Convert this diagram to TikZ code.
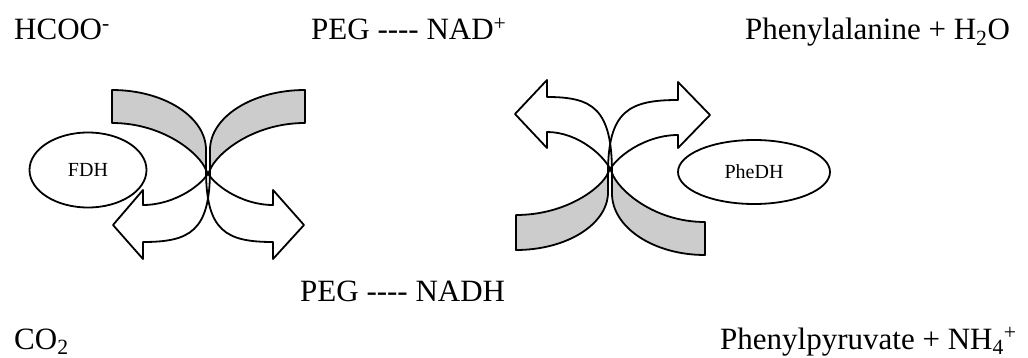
\documentclass[tikz,border=0pt]{standalone}
\usepackage{fontspec}
\setmainfont{Liberation Serif}
\usetikzlibrary{shapes.geometric}
\definecolor{bandgray}{RGB}{204,204,204}
\tikzset{
  lbl/.style={anchor=base west, inner sep=0pt, font=\fontsize{31}{36}\selectfont},
  enz/.style={ellipse, draw, line width=1.8pt, inner sep=0pt, fill=white, font=\fontsize{20}{24}\selectfont},
  bandfill/.style={fill=bandgray},
  arrowfill/.style={fill=white},
  outline/.style={draw, line width=1.8pt, line join=round},
}
% gray band: style, end x, outer y, inner y
\newcommand\bandpath[4]{%
  \path[#1] (#2,#3) .. controls ({0.4477*(#2)},#3) and (0,{0.664*(#3)}) .. (0,{0.25*(#3)}) -- (0,0)
    .. controls ({0.064*(#2)},{0.34*(#4)}) and ({0.4477*(#2)},#4) .. (#2,#4) -- cycle;}
% white arrow: style, head base x, notch1 y, notch2 y, head1 y, head2 y, tip x, tip y
\newcommand\arrowpath[8]{%
  \path[#1] (0,0) .. controls (0,{0.85*(#4)}) and ({0.3*(#2)},#4) .. (#2,#4) -- (#2,#6) -- (#7,#8)
    -- (#2,#5) -- (#2,#3) .. controls ({0.52*(#2)},#3) and ({0.09*(#2)},{0.4*(#3)}) .. (0,0) -- cycle;}
\newcommand\allshapes[2]{%
  % left group: two S-shaped bands crossing
  \begin{scope}[shift={(206,170)}]
    \bandpath{#1}{-94}{-80}{-47}
    \begin{scope}[xscale=-1]\arrowpath{#2}{-67}{35}{72}{20}{89}{-98}{55}\end{scope}
  \end{scope}
  \begin{scope}[shift={(210,170)},xscale=-1]
    \bandpath{#1}{-95}{-80}{-47}
    \begin{scope}[xscale=-1]\arrowpath{#2}{-67}{35}{72}{20}{89}{-97}{55}\end{scope}
  \end{scope}
  % right group
  \begin{scope}[shift={(608,173)},yscale=-1]
    \bandpath{#1}{-92}{-77}{-42}
    \begin{scope}[xscale=-1]\arrowpath{#2}{-70}{38}{73}{25}{91}{-102}{58}\end{scope}
  \end{scope}
  \begin{scope}[shift={(612,173)},xscale=-1,yscale=-1]
    \bandpath{#1}{-93}{-82}{-49}
    \begin{scope}[xscale=-1]\arrowpath{#2}{-65}{41}{76}{25}{93}{-97}{59}\end{scope}
  \end{scope}}
\begin{document}
\begin{tikzpicture}[x=1pt,y=-1pt]
\useasboundingbox (0,0) rectangle (1028,358);
\fill[white] (0,0) rectangle (1028,358);
% curved arrows: fills first, then outlines
\allshapes{bandfill}{arrowfill}
\allshapes{outline}{outline}
% enzymes
\node[enz, minimum width=117pt, minimum height=75pt] (fdh) at (88,170) {FDH};
\node[enz, minimum width=152pt, minimum height=64pt] (phedh) at (754,172) {PheDH};
% labels
\node[lbl] (hcoo) at (14,40) {HCOO\textsuperscript{-}};
\node[lbl] (nadp) at (311,40) {PEG -{}-{}-{}- NAD\textsuperscript{+}};
\node[lbl] (phe) at (745,40) {Phenylalanine + H\textsubscript{2}O};
\node[lbl] (nadh) at (300,301) {PEG -{}-{}-{}- NADH};
\node[lbl] (co2) at (14,349) {CO\textsubscript{2}};
\node[lbl] (pp) at (720,349) {Phenylpyruvate + NH\textsubscript{4}\textsuperscript{+}};
\end{tikzpicture}
\end{document}
